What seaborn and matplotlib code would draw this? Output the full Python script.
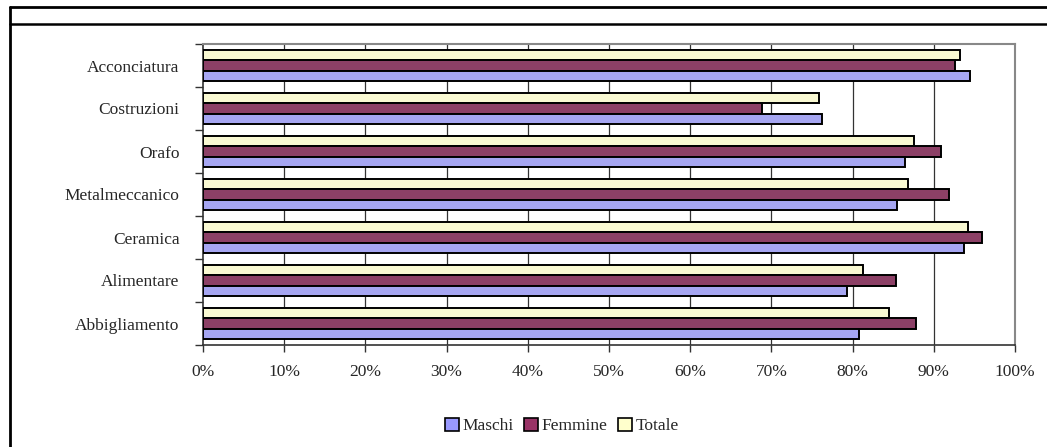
import matplotlib
matplotlib.use('Agg')
import matplotlib.pyplot as plt
from matplotlib.lines import Line2D
from matplotlib.patches import Patch
from matplotlib.ticker import FixedLocator, PercentFormatter
import seaborn as sns
import pandas as pd
import numpy as np

CATEGORIES = ['Acconciatura', 'Costruzioni', 'Orafo', 'Metalmeccanico',
              'Ceramica', 'Alimentare', 'Abbigliamento']
MASCHI  = [94.4, 76.2, 86.5, 85.5, 93.7, 79.3, 80.8]
FEMMINE = [92.6, 68.8, 90.9, 91.9, 95.9, 85.3, 87.8]
TOTALE  = [93.2, 75.9, 87.5, 86.8, 94.2, 81.3, 84.5]
SERIES  = ['Maschi', 'Femmine', 'Totale']
COLORS  = {'Maschi': '#9999FF', 'Femmine': '#993366', 'Totale': '#FFFFCC'}

df = pd.DataFrame({
    'categoria': CATEGORIES * 3,
    'serie': ['Maschi'] * 7 + ['Femmine'] * 7 + ['Totale'] * 7,
    'valore': MASCHI + FEMMINE + TOTALE,
})

sns.set_style('white')
plt.rcParams['font.family'] = ['Liberation Serif', 'DejaVu Serif']

fig = plt.figure(figsize=(10.47, 4.47), dpi=100)
ax = fig.add_axes([203 / 1047, 1 - 345 / 447, 812 / 1047, 301 / 447])

# Excel draws the last series on top inside each group
sns.barplot(data=df, y='categoria', x='valore', hue='serie',
            order=CATEGORIES, hue_order=['Totale', 'Femmine', 'Maschi'],
            palette=COLORS, orient='h', width=0.72,
            edgecolor='black', linewidth=1.4, ax=ax, legend=False, zorder=3)

ax.set_xlim(0, 100)
ax.set_ylim(len(CATEGORIES) - 0.5, -0.5)
ax.xaxis.set_major_locator(FixedLocator(np.arange(0, 101, 10)))
ax.xaxis.set_major_formatter(PercentFormatter(decimals=0))
ax.set_xlabel('')
ax.set_ylabel('')

# vertical gridlines
for v in range(10, 100, 10):
    ax.axvline(v, color='#333333', lw=0.9, zorder=1)

# category ticks between groups
ax.yaxis.set_minor_locator(FixedLocator(np.arange(-0.5, len(CATEGORIES), 1)))
ax.tick_params(axis='y', which='major', length=0, pad=17, labelsize=12.5)
ax.tick_params(axis='y', which='minor', length=6, width=1, color='#333333', left=True)
ax.tick_params(axis='x', which='major', length=5, width=1, color='#333333',
               bottom=True, direction='out', pad=9, labelsize=12.5)

for side in ['top', 'right']:
    ax.spines[side].set_color('#888888')
    ax.spines[side].set_linewidth(1.5)
for side in ['left', 'bottom']:
    ax.spines[side].set_color('#333333')
    ax.spines[side].set_linewidth(1.2)

handles = [Patch(facecolor=COLORS[s], edgecolor='black', linewidth=1.2, label=s)
           for s in SERIES]
fig.legend(handles=handles, loc='center', bbox_to_anchor=(562 / 1047, 1 - 426 / 447),
           ncol=3, frameon=False, fontsize=12.5, handlelength=0.8, handleheight=0.8,
           handletextpad=0.2, columnspacing=0.6)

# outer frame of the chart object
fig.add_artist(Line2D([10 / 1047, 1], [1 - 7 / 447] * 2, color='black', lw=2))
fig.add_artist(Line2D([10 / 1047, 1], [1 - 24 / 447] * 2, color='black', lw=1.8))
fig.add_artist(Line2D([10 / 1047] * 2, [0, 1 - 7 / 447], color='black', lw=2))

fig.savefig('out.png', dpi=100)
